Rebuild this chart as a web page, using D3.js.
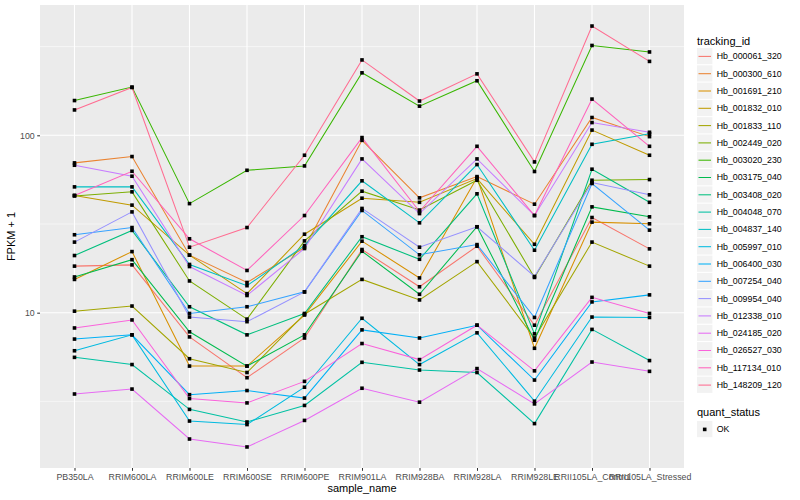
<!DOCTYPE html>
<html>
<head>
<meta charset="utf-8">
<script src="https://cdn.jsdelivr.net/npm/d3@7"></script>
<style>
  body { margin: 0; background: #ffffff; }
  text { font-family: "Liberation Sans", Arial, sans-serif; }
</style>
</head>
<body>
<div id="chart"></div>
<script>
// samples on the x axis
const samples = ["PB350LA", "RRIM600LA", "RRIM600LE", "RRIM600SE", "RRIM600PE", "RRIM901LA",
                 "RRIM928BA", "RRIM928LA", "RRIM928LE", "RRII105LA_Control", "RRII105LA_Stressed"];

// genes (legend order)
const trackingIds = ["Hb_000061_320", "Hb_000300_610", "Hb_001691_210", "Hb_001832_010", "Hb_001833_110",
                     "Hb_002449_020", "Hb_003020_230", "Hb_003175_040", "Hb_003408_020", "Hb_004048_070",
                     "Hb_004837_140", "Hb_005997_010", "Hb_006400_030", "Hb_007254_040", "Hb_009954_040",
                     "Hb_012338_010", "Hb_024185_020", "Hb_026527_030", "Hb_117134_010", "Hb_148209_120"];

// FPKM + 1 per sample
const hb_000061_320 = [18.3, 18.6, 7.3, 4.3, 7.2, 22.7, 14.0, 23.7, 8.5, 34.4, 22.9];
const hb_000300_610 = [69.9, 75.9, 21.1, 14.8, 23.3, 93.7, 44.4, 58.5, 40.9, 126, 98.3];
const hb_001691_210 = [15.4, 22.1, 5.0, 5.0, 9.7, 25.3, 15.7, 57.8, 6.3, 32.4, 31.7];
const hb_001832_010 = [45.8, 40.4, 21.1, 12.8, 27.7, 44.2, 41.9, 57.0, 24.3, 107, 77.2];
const hb_001833_110 = [10.2, 10.9, 5.5, 4.6, 9.8, 15.4, 11.8, 19.4, 7.2, 25.0, 18.3];
const hb_002449_020 = [45.5, 48.0, 15.1, 9.2, 25.4, 48.4, 37.9, 55.8, 15.8, 55.8, 56.3];
const hb_003020_230 = [157, 187, 41.2, 63.5, 67.2, 225, 146, 203, 62.5, 321, 295];
const hb_003175_040 = [15.9, 19.9, 7.8, 5.0, 7.5, 22.2, 12.7, 30.5, 7.0, 39.5, 34.7];
const hb_003408_020 = [21.0, 29.1, 10.8, 7.5, 9.9, 26.8, 20.0, 46.8, 7.6, 64.4, 41.9];
const hb_004048_070 = [5.6, 5.1, 2.85, 2.42, 3.0, 5.25, 4.75, 4.6, 2.37, 8.05, 5.37];
const hb_004837_140 = [51.2, 51.2, 18.7, 14.2, 23.9, 55.4, 32.1, 68.4, 22.5, 89.0, 102];
const hb_005997_010 = [6.1, 7.5, 2.45, 2.34, 3.8, 9.3, 5.1, 7.7, 3.17, 9.45, 9.4];
const hb_006400_030 = [7.1, 7.5, 3.45, 3.64, 3.3, 8.0, 7.2, 8.5, 4.17, 11.5, 12.6];
const hb_007254_040 = [27.5, 30.2, 9.9, 10.8, 13.1, 37.7, 21.2, 24.2, 9.4, 53.5, 29.2];
const hb_009954_040 = [25.0, 37.0, 9.45, 8.9, 13.1, 38.7, 23.4, 30.5, 16.0, 54.2, 46.2];
const hb_012338_010 = [67.8, 58.8, 18.2, 12.5, 23.0, 73.6, 36.2, 73.6, 35.3, 118, 104];
const hb_024185_020 = [3.48, 3.71, 1.94, 1.75, 2.47, 3.75, 3.13, 4.84, 3.06, 5.27, 4.67];
const hb_026527_030 = [8.2, 9.1, 3.28, 3.1, 4.1, 6.7, 5.44, 8.5, 4.7, 12.2, 9.9];
const hb_117134_010 = [45.8, 62.7, 26.1, 17.3, 35.3, 97.1, 37.2, 86.7, 35.3, 160, 86.7];
const hb_148209_120 = [139, 186, 23.4, 30.2, 77.2, 266, 156, 222, 70.8, 413, 261];

// ggplot default hue palette for 20 levels
const colours = ["#F8766D", "#EA8331", "#D89000", "#C09B00", "#A3A500", "#7CAE00", "#39B600", "#00BB4E",
                 "#00BF7D", "#00C1A3", "#00BFC4", "#00BAE0", "#00B0F6", "#35A2FF", "#9590FF", "#C77CFF",
                 "#E76BF3", "#FA62DB", "#FF62BC", "#FF6C91"];

const yBreaks = [10, 100];
const yMinor = [Math.pow(10, 0.5), Math.pow(10, 1.5), Math.pow(10, 2.5)];

(function () {
    var values = [hb_000061_320, hb_000300_610, hb_001691_210, hb_001832_010, hb_001833_110,
                  hb_002449_020, hb_003020_230, hb_003175_040, hb_003408_020, hb_004048_070,
                  hb_004837_140, hb_005997_010, hb_006400_030, hb_007254_040, hb_009954_040,
                  hb_012338_010, hb_024185_020, hb_026527_030, hb_117134_010, hb_148209_120];

    var data = trackingIds.map(function (id, i) {
        return {
            id: id,
            colour: colours[i],
            points: samples.map(function (s, j) { return { sample: s, v: values[i][j] }; })
        };
    });

    var W = 800, H = 500;
    var panel = { left: 40, right: 684, top: 5, bottom: 468 };

    var svg = d3.select("#chart").append("svg")
        .attr("width", W)
        .attr("height", H);

    // x: discrete, 0.6 step padding like ggplot
    var x = d3.scalePoint()
        .domain(samples)
        .range([panel.left, panel.right])
        .padding(0.6);

    // y: log10 with 5% expansion of the data range
    var all = [];
    values.forEach(function (row) { all = all.concat(row); });
    var lo = Math.log10(d3.min(all)), hi = Math.log10(d3.max(all));
    var pad = (hi - lo) * 0.05;
    var y = d3.scaleLog()
        .domain([Math.pow(10, lo - pad), Math.pow(10, hi + pad)])
        .range([panel.bottom, panel.top]);

    // panel background
    svg.append("rect")
        .attr("x", panel.left).attr("y", panel.top)
        .attr("width", panel.right - panel.left)
        .attr("height", panel.bottom - panel.top)
        .attr("fill", "#EBEBEB");

    // grid
    var grid = svg.append("g");
    grid.selectAll(".minor").data(yMinor).enter().append("line")
        .attr("x1", panel.left).attr("x2", panel.right)
        .attr("y1", function (d) { return y(d); })
        .attr("y2", function (d) { return y(d); })
        .attr("stroke", "#ffffff").attr("stroke-width", 0.55);
    grid.selectAll(".major").data(yBreaks).enter().append("line")
        .attr("x1", panel.left).attr("x2", panel.right)
        .attr("y1", function (d) { return y(d); })
        .attr("y2", function (d) { return y(d); })
        .attr("stroke", "#ffffff").attr("stroke-width", 1.1);
    grid.selectAll(".vx").data(samples).enter().append("line")
        .attr("x1", function (d) { return x(d); })
        .attr("x2", function (d) { return x(d); })
        .attr("y1", panel.top).attr("y2", panel.bottom)
        .attr("stroke", "#ffffff").attr("stroke-width", 1.1);

    // lines
    var line = d3.line()
        .x(function (d) { return x(d.sample); })
        .y(function (d) { return y(d.v); });
    svg.append("g").selectAll("path").data(data).enter().append("path")
        .attr("d", function (d) { return line(d.points); })
        .attr("fill", "none")
        .attr("stroke", function (d) { return d.colour; })
        .attr("stroke-width", 1.05);

    // points (quant_status OK -> small square)
    var sq = 3.6;
    var pts = [];
    data.forEach(function (d) { pts = pts.concat(d.points); });
    svg.append("g").selectAll("rect").data(pts).enter().append("rect")
        .attr("x", function (d) { return x(d.sample) - sq / 2; })
        .attr("y", function (d) { return y(d.v) - sq / 2; })
        .attr("width", sq).attr("height", sq)
        .attr("fill", "#000000");

    // axes
    var xAxis = d3.axisBottom(x).tickSize(2.8).tickPadding(2.5);
    var gx = svg.append("g")
        .attr("transform", "translate(0," + panel.bottom + ")")
        .call(xAxis);
    var yAxis = d3.axisLeft(y).tickValues(yBreaks).tickFormat(d3.format("d"))
        .tickSize(2.8).tickPadding(2.5);
    var gy = svg.append("g")
        .attr("transform", "translate(" + panel.left + ",0)")
        .call(yAxis);
    [gx, gy].forEach(function (g) {
        g.select(".domain").remove();
        g.selectAll(".tick line").attr("stroke", "#333333").attr("stroke-width", 1.05);
        g.selectAll(".tick text")
            .attr("fill", "#4D4D4D")
            .attr("font-size", "8.8px")
            .attr("font-family", "Liberation Sans, Arial, sans-serif");
    });

    // axis titles
    svg.append("text")
        .attr("x", (panel.left + panel.right) / 2).attr("y", 492)
        .attr("text-anchor", "middle")
        .attr("font-size", "11px").attr("fill", "#000000")
        .text("sample_name");
    svg.append("text")
        .attr("transform", "translate(15," + (panel.top + panel.bottom) / 2 + ") rotate(-90)")
        .attr("text-anchor", "middle")
        .attr("font-size", "11px").attr("fill", "#000000")
        .text("FPKM + 1");

    // legend: tracking_id
    var lx = 697, ly0 = 48, key = 17.3;
    var legend = svg.append("g");
    legend.append("text")
        .attr("x", lx).attr("y", 44.5)
        .attr("font-size", "11px").attr("fill", "#000000")
        .text("tracking_id");
    var items = legend.selectAll(".item").data(data).enter().append("g")
        .attr("transform", function (d, i) { return "translate(" + lx + "," + (ly0 + i * key) + ")"; });
    items.append("rect")
        .attr("width", 15.4).attr("height", 16.2)
        .attr("fill", "#F2F2F2");
    items.append("line")
        .attr("x1", 1.5).attr("x2", 14)
        .attr("y1", 8.4).attr("y2", 8.4)
        .attr("stroke", function (d) { return d.colour; })
        .attr("stroke-width", 1.05);
    items.append("text")
        .attr("x", 19.7).attr("y", 11.4)
        .attr("font-size", "8.8px").attr("fill", "#000000")
        .text(function (d) { return d.id; });

    // legend: quant_status
    legend.append("text")
        .attr("x", lx).attr("y", 416)
        .attr("font-size", "11px").attr("fill", "#000000")
        .text("quant_status");
    var ok = legend.append("g").attr("transform", "translate(" + lx + ",421)");
    ok.append("rect").attr("width", 15.4).attr("height", 16.2).attr("fill", "#F2F2F2");
    ok.append("rect").attr("x", 7.7 - sq / 2).attr("y", 8.4 - sq / 2)
        .attr("width", sq).attr("height", sq).attr("fill", "#000000");
    ok.append("text")
        .attr("x", 19.7).attr("y", 11.4)
        .attr("font-size", "8.8px").attr("fill", "#000000")
        .text("OK");
})();
</script>
</body>
</html>
